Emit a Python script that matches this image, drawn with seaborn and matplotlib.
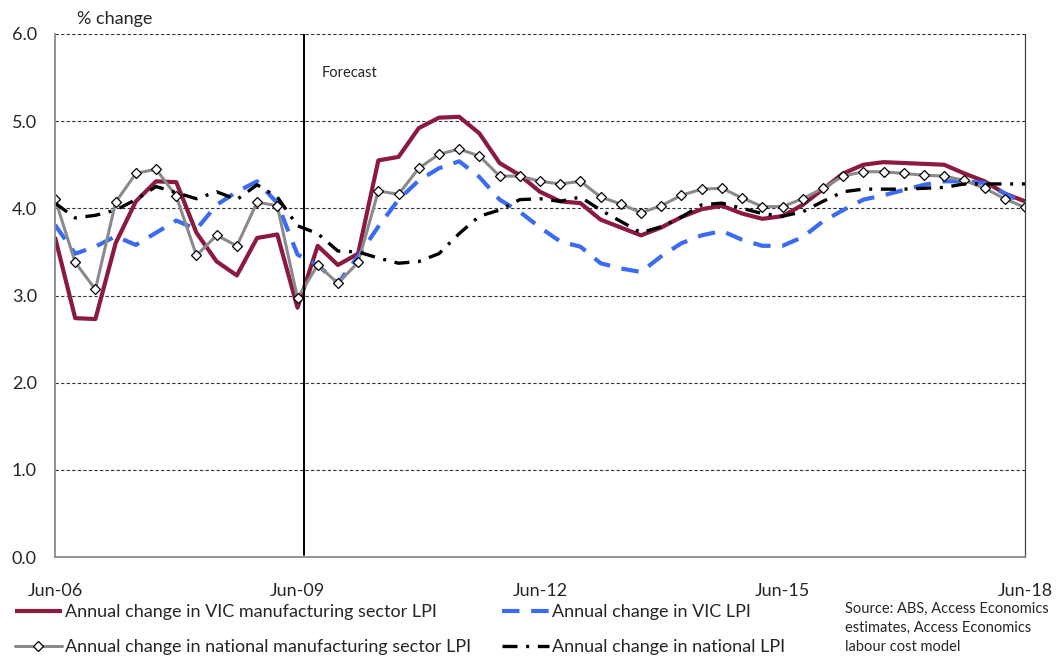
import matplotlib
matplotlib.use("Agg")
import matplotlib.pyplot as plt
import numpy as np
import pandas as pd
import seaborn as sns
from matplotlib import font_manager
from matplotlib.lines import Line2D

# Quarterly observations, Jun-06 to Jun-18 (annual % change)
quarters = pd.period_range("2006Q2", "2018Q2", freq="Q")

vic_mfg_lpi = [3.67, 2.74, 2.73, 3.60, 4.08, 4.31, 4.30, 3.72, 3.39, 3.23, 3.66, 3.70, 2.86,
               3.57, 3.35, 3.48, 4.55, 4.59, 4.92, 5.04, 5.05, 4.86, 4.52, 4.38, 4.19,
               4.08, 4.06, 3.87, 3.78, 3.69, 3.78, 3.90, 3.99, 4.03, 3.94, 3.88, 3.91,
               4.04, 4.22, 4.40, 4.50, 4.53, 4.52, 4.51, 4.50, 4.40, 4.31, 4.17, 4.08]

vic_lpi = [3.81, 3.48, 3.56, 3.68, 3.58, 3.72, 3.86, 3.76, 4.04, 4.19, 4.31, 4.06, 3.47,
           3.35, 3.14, 3.45, 3.79, 4.10, 4.32, 4.46, 4.54, 4.36, 4.10, 3.96, 3.78,
           3.62, 3.56, 3.37, 3.31, 3.27, 3.45, 3.60, 3.69, 3.74, 3.64, 3.57, 3.57,
           3.67, 3.85, 3.98, 4.10, 4.15, 4.21, 4.27, 4.31, 4.31, 4.29, 4.17, 4.05]

nat_mfg_lpi = [4.11, 3.38, 3.07, 4.07, 4.40, 4.45, 4.14, 3.46, 3.69, 3.57, 4.07, 4.03, 2.97,
               3.35, 3.14, 3.38, 4.20, 4.16, 4.46, 4.62, 4.68, 4.60, 4.37, 4.37, 4.31,
               4.28, 4.31, 4.13, 4.05, 3.95, 4.03, 4.15, 4.22, 4.23, 4.12, 4.02, 4.02,
               4.11, 4.23, 4.37, 4.42, 4.42, 4.40, 4.38, 4.37, 4.32, 4.23, 4.11, 4.01]

nat_lpi = [4.06, 3.89, 3.92, 3.98, 4.10, 4.25, 4.18, 4.11, 4.19, 4.10, 4.27, 4.13, 3.80,
           3.71, 3.51, 3.50, 3.43, 3.37, 3.39, 3.48, 3.71, 3.91, 3.98, 4.10, 4.11,
           4.08, 4.13, 3.98, 3.85, 3.72, 3.79, 3.90, 4.04, 4.06, 4.00, 3.94, 3.91,
           3.96, 4.08, 4.19, 4.22, 4.22, 4.22, 4.23, 4.24, 4.28, 4.28, 4.28, 4.28]

tick_labels = ["Jun-06", "Jun-09", "Jun-12", "Jun-15", "Jun-18"]
y_ticks = [0, 1, 2, 3, 4, 5, 6]
forecast_start = 12.3  # forecast period begins just after Jun-09

series_labels = [
    "Annual change in VIC manufacturing sector LPI",
    "Annual change in VIC LPI",
    "Annual change in national manufacturing sector LPI",
    "Annual change in national LPI",
]
source_note = "Source: ABS, Access Economics\nestimates, Access Economics\nlabour cost model"

sns.set_style("white")


def pick_font(candidates):
    for name in candidates:
        try:
            font_manager.findfont(name, fallback_to_default=False)
            return name
        except Exception:
            continue
    return "DejaVu Sans"


font = pick_font(["Lato", "Liberation Sans"])
plt.rcParams["font.family"] = [font, "DejaVu Sans"]

df = pd.DataFrame({
    "q": np.arange(len(quarters)),
    "vic_mfg": vic_mfg_lpi,
    "vic": vic_lpi,
    "nat_mfg": nat_mfg_lpi,
    "nat": nat_lpi,
})

RED = "#8C1A3C"
BLUE = "#3A6BF2"
GREY = "#8a8a8a"
BLACK = "#000000"

fig = plt.figure(figsize=(10.56, 6.6), dpi=100)
ax = fig.add_axes([55 / 1056, 1 - 557 / 660, 970 / 1056, 523 / 660])

red_style = dict(color=RED, linewidth=3.0, solid_capstyle="butt")
blue_style = dict(color=BLUE, linewidth=3.0, linestyle=(0, (4.2, 2.8)), dash_capstyle="butt")
grey_style = dict(color=GREY, linewidth=2.2, marker="D", markersize=5.5,
                  markerfacecolor="white", markeredgecolor="black", markeredgewidth=0.9)
black_style = dict(color=BLACK, linewidth=2.4, linestyle=(0, (4.5, 2.6, 0.9, 2.6)), dash_capstyle="butt")

sns.lineplot(data=df, x="q", y="vic_mfg", ax=ax, legend=False, **red_style)
sns.lineplot(data=df, x="q", y="vic", ax=ax, legend=False, **blue_style)
sns.lineplot(data=df, x="q", y="nat_mfg", ax=ax, legend=False, **grey_style)
sns.lineplot(data=df, x="q", y="nat", ax=ax, legend=False, **black_style)

ax.axvline(forecast_start, color="black", linewidth=1.4, ymin=0.004)
ax.text(forecast_start + 0.9, 5.55, "Forecast", fontsize=10.5, va="center", ha="left")

ax.set_xlim(0, len(quarters) - 1)
ax.set_ylim(0, 6)
ax.set_xticks(np.arange(0, len(quarters), 12))
ax.set_xticklabels(tick_labels)
ax.set_yticks(y_ticks)
ax.set_yticklabels([f"{v:.1f}" for v in y_ticks])
ax.set_xlabel("")
ax.set_ylabel("")

ax.grid(axis="y", linestyle=(0, (3, 2)), color="#333333", linewidth=0.8)
ax.grid(axis="x", visible=False)

for side in ("left", "bottom"):
    ax.spines[side].set_color("#8a8a8a")
    ax.spines[side].set_linewidth(1.3)
ax.spines["top"].set_visible(False)
ax.spines["right"].set_color("#444444")
ax.spines["right"].set_linewidth(0.9)

ax.tick_params(axis="y", direction="out", length=4, width=1, color="#8a8a8a",
               pad=9, labelsize=13)
ax.tick_params(axis="x", direction="out", length=4, width=1, color="#8a8a8a",
               pad=15, labelsize=13)

fig.text(77 / 1056, 1 - 19 / 660, "% change", fontsize=13, va="center", ha="left")

handles = [
    Line2D([], [], **red_style),
    Line2D([], [], **grey_style),
    Line2D([], [], **blue_style),
    Line2D([], [], **black_style),
]
labels = [series_labels[0], series_labels[2], series_labels[1], series_labels[3]]
fig.legend(handles, labels, ncol=2, loc="upper left",
           bbox_to_anchor=(15 / 1056, 1 - 604 / 660), frameon=False,
           fontsize=13, handlelength=2.6, handletextpad=0.15,
           columnspacing=1.75, labelspacing=1.05, borderpad=0, borderaxespad=0)

fig.text(845 / 1056, 1 - 602 / 660, source_note, fontsize=10.5, va="top", ha="left",
         linespacing=1.45)

fig.savefig("out.png", dpi=100)
